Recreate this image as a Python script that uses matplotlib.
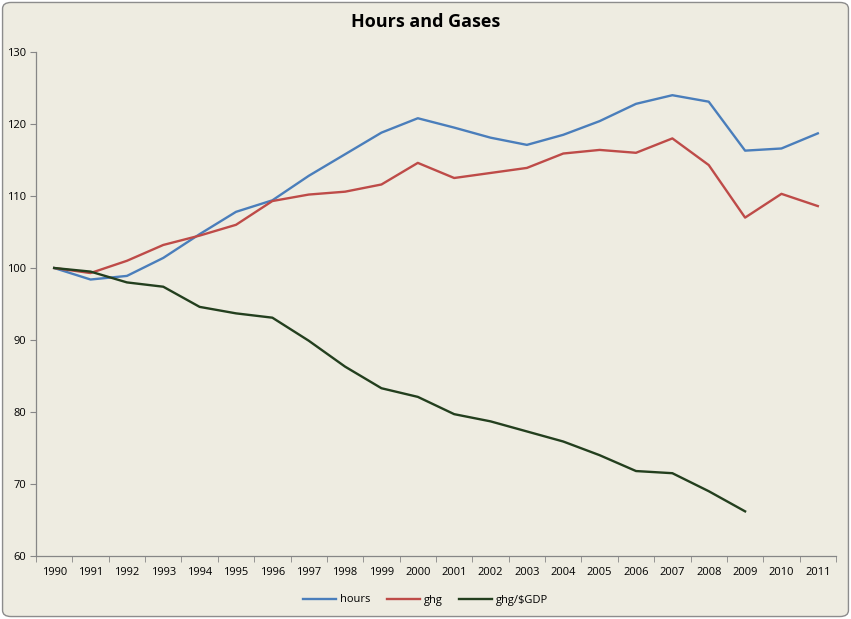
import matplotlib
matplotlib.use("Agg")
import matplotlib.pyplot as plt
from matplotlib.patches import FancyBboxPatch
import numpy as np

years = [str(y) for y in range(1990, 2012)]
hours = [100, 98.4, 98.9, 101.4, 104.7, 107.8, 109.4, 112.8, 115.8, 118.8, 120.8,
         119.5, 118.1, 117.1, 118.5, 120.4, 122.8, 124.0, 123.1, 116.3, 116.6, 118.7]
ghg = [100, 99.3, 101.0, 103.2, 104.5, 106.0, 109.3, 110.2, 110.6, 111.6, 114.6,
       112.5, 113.2, 113.9, 115.9, 116.4, 116.0, 118.0, 114.3, 107.0, 110.3, 108.6]
ghg_gdp = [100, 99.5, 98.0, 97.4, 94.6, 93.7, 93.1, 89.9, 86.3, 83.3, 82.1,
           79.7, 78.7, 77.3, 75.9, 74.0, 71.8, 71.5, 69.0, 66.2, None, None]
yticks = [60, 70, 80, 90, 100, 110, 120, 130]

bg = "#EEECE1"
plt.rcParams['font.family'] = ['Open Sans', 'DejaVu Sans']
fig = plt.figure(figsize=(8.51, 6.19), dpi=100, facecolor="white")
fig.patches.append(FancyBboxPatch((0.003, 0.004), 0.994, 0.992, boxstyle="round,pad=0,rounding_size=0.01",
                                  transform=fig.transFigure, facecolor=bg, edgecolor="#8C8C8C", linewidth=1.0, zorder=-10))
ax = fig.add_axes([36/851, 1-556/619, (836-36)/851, (556-52)/619])
ax.set_facecolor(bg)
ax.patch.set_alpha(0)

x = np.arange(len(years))
gdp = np.array([np.nan if v is None else v for v in ghg_gdp], dtype=float)
ax.plot(x, hours, color="#4A7EBB", lw=1.7, label="hours")
ax.plot(x, ghg, color="#BE4B48", lw=1.7, label="ghg")
ax.plot(x, gdp, color="#233F1E", lw=1.7, label="ghg/$GDP")

ax.set_xlim(-0.5, len(years) - 0.5)
ax.set_ylim(60, 130)
ax.set_yticks(yticks)
ax.set_yticklabels([str(t) for t in yticks], fontsize=8)
ax.set_xticks(x)
ax.set_xticklabels(years, fontsize=8)
ax.set_xticks(np.arange(-0.5, len(years)), minor=True)
ax.tick_params(axis='x', which='major', length=0, pad=8)
ax.tick_params(axis='x', which='minor', length=4, color="#868686")
ax.tick_params(axis='y', length=4, color="#868686", pad=3)
for s in ["top", "right"]:
    ax.spines[s].set_visible(False)
for s in ["left", "bottom"]:
    ax.spines[s].set_color("#868686")
    ax.spines[s].set_linewidth(0.9)

fig.text(0.5, 1 - 22/619, "Hours and Gases", ha="center", va="center", fontsize=13, fontweight="bold")
leg = fig.legend(loc="center", bbox_to_anchor=(0.5, 1 - 600/619), ncol=3, frameon=False, fontsize=8,
                 handlelength=3.0, columnspacing=1.5, handletextpad=0.3)
fig.savefig("out.png", dpi=100, facecolor="white")
